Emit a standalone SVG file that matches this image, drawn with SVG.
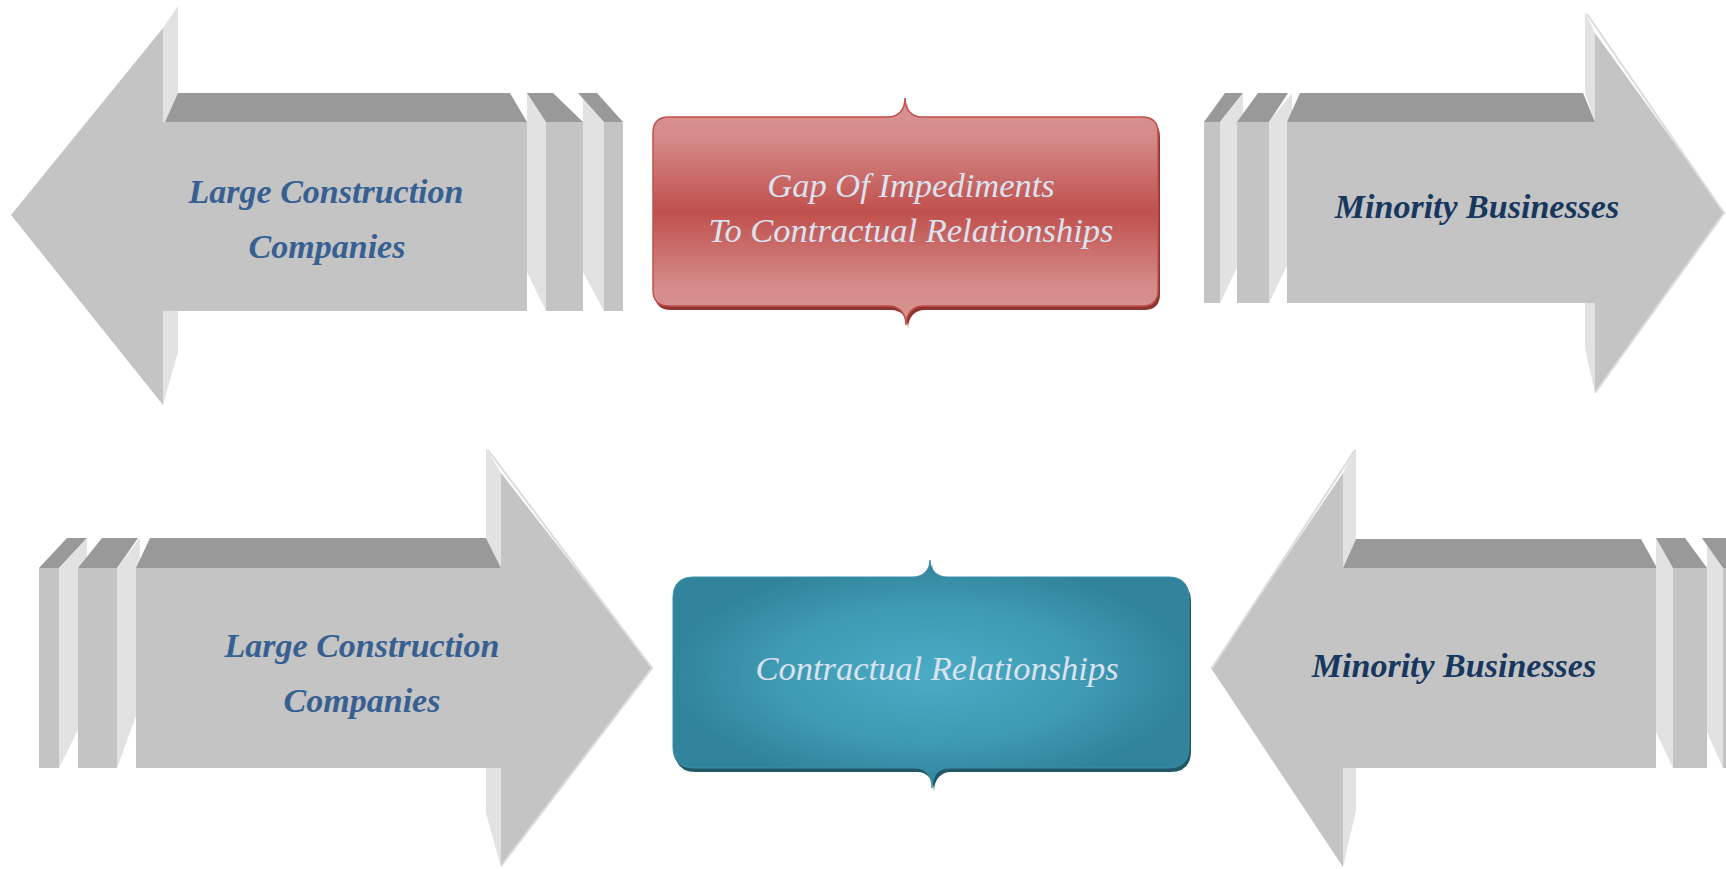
<svg xmlns="http://www.w3.org/2000/svg" width="1726" height="869" viewBox="0 0 1726 869">
<style>
.front{fill:#c4c4c4}
.top{fill:#999999}
.side{fill:#e2e2e2}
.edge{fill:none;stroke:#dcdcdc;stroke-width:2}
.gt{font-family:"Liberation Serif","Times New Roman",serif;font-style:italic;font-weight:bold;font-size:34px;text-anchor:middle}
.lc{fill:#376092}
.mb{fill:#17375e}
.bt{font-family:"Liberation Serif","Times New Roman",serif;font-style:italic;font-size:34.5px;text-anchor:middle;fill:#dbe3f0}
</style>
<defs>
<linearGradient id="redg" x1="0" y1="0" x2="0" y2="1">
<stop offset="0" stop-color="#d99694"/>
<stop offset="0.18" stop-color="#d48a88"/>
<stop offset="0.5" stop-color="#c0504d"/>
<stop offset="0.82" stop-color="#d48a88"/>
<stop offset="1" stop-color="#d99694"/>
</linearGradient>
<radialGradient id="tealg" cx="0.5" cy="0.5" r="0.5">
<stop offset="0" stop-color="#4babc5"/>
<stop offset="0.6" stop-color="#3f9ab3"/>
<stop offset="1" stop-color="#31849b"/>
</radialGradient>
<path id="redbox" d="M669,117 H888 C898,117 905,110 905,98 C905,110 912,117 922,117 H1142 Q1158,117 1158,133 V290 Q1158,306 1142,306 H923 C913,306 906,313 906,325 C906,313 899,306 889,306 H669 Q653,306 653,290 V133 Q653,117 669,117 Z"/>
<path id="tealbox" d="M694,577 H913 C923,577 930,570 930,560 C930,570 937,577 947,577 H1168 Q1189,577 1189,598 V747 Q1189,768 1168,768 H949 C939,768 932,775 932,788 C932,775 925,768 915,768 H694 Q673,768 673,747 V598 Q673,577 694,577 Z"/>
</defs>

<g id="large-top">
<polygon class="side" points="163,28 178,6 178,93 165,122 163,122"/>
<polygon class="side" points="163,311 178,311 178,352 163,405"/>
<polygon class="top" points="165,122 178,93 510,93 527,122"/>
<polygon class="front" points="11,215 163,28 163,122 527,122 527,311 163,311 163,405"/>
<polygon class="side" points="527,93 546,122 546,311 527,272"/>
<polygon class="top" points="527,93 553,93 583,122 546,122"/>
<rect class="front" x="546" y="122" width="37" height="189"/>
<polygon class="side" points="578,93 604,122 604,311 583,272 583,93"/>
<polygon class="top" points="578,93 597,93 623,122 604,122"/>
<rect class="front" x="604" y="122" width="19" height="189"/>
<text class="gt lc" x="326" y="203">Large Construction</text>
<text class="gt lc" x="327" y="258">Companies</text>
</g>

<g id="gap-box">
<use href="#redbox" transform="translate(2,4)" fill="#8e3431"/>
<use href="#redbox" fill="url(#redg)" stroke="#c0504d" stroke-width="1.5"/>
<text class="bt" x="911" y="197">Gap Of Impediments</text>
<text class="bt" x="911" y="242">To Contractual Relationships</text>
</g>

<g id="minority-top">
<rect class="front" x="1204" y="122" width="16" height="181"/>
<polygon class="top" points="1204,122 1225,93 1243,93 1220,122"/>
<polygon class="side" points="1220,122 1243,93 1243,255 1220,303"/>
<rect class="front" x="1237" y="122" width="32" height="181"/>
<polygon class="top" points="1237,122 1258,93 1288,93 1269,122"/>
<polygon class="side" points="1269,122 1292,93 1292,255 1269,303"/>
<polygon class="side" points="1585,12 1595,33 1595,122 1585,93"/>
<polygon class="side" points="1585,303 1595,303 1595,393 1585,348"/>
<polygon class="top" points="1287,122 1300,93 1583,93 1595,122"/>
<polygon class="front" points="1287,122 1595,122 1595,33 1725,213 1595,393 1595,303 1287,303"/>
<polyline class="edge" points="1587,14 1724,213 1595,393"/>
<text class="gt mb" x="1477" y="218">Minority Businesses</text>
</g>

<g id="large-bottom">
<rect class="front" x="39" y="568" width="20" height="200"/>
<polygon class="top" points="39,568 67,538 87,538 59,568"/>
<polygon class="side" points="59,568 87,538 87,712 59,768"/>
<rect class="front" x="78" y="568" width="39" height="200"/>
<polygon class="top" points="78,568 102,538 138,538 117,568"/>
<polygon class="side" points="117,568 140,538 140,705 117,768"/>
<polygon class="side" points="486,448 501,473 501,568 486,538"/>
<polygon class="side" points="486,768 501,768 501,867 486,813"/>
<polygon class="top" points="136,568 150,538 486,538 501,568"/>
<polygon class="front" points="136,568 501,568 501,473 653,668 501,867 501,768 136,768"/>
<polyline class="edge" points="488,450 652,668 501,866"/>
<text class="gt lc" x="362" y="657">Large Construction</text>
<text class="gt lc" x="362" y="712">Companies</text>
</g>

<g id="contractual-box">
<use href="#tealbox" transform="translate(2,4)" fill="#215868"/>
<use href="#tealbox" fill="url(#tealg)" stroke="#3b8ea5" stroke-width="1"/>
<text class="bt" x="937" y="680">Contractual Relationships</text>
</g>

<g id="minority-bottom">
<polygon class="side" points="1356,448 1343,473 1343,568 1356,539"/>
<polygon class="side" points="1343,768 1356,768 1356,810 1343,867"/>
<polygon class="top" points="1343,568 1356,539 1641,539 1657,568"/>
<polygon class="front" points="1211,668 1343,473 1343,568 1656,568 1656,768 1343,768 1343,867"/>
<polyline class="edge" points="1355,450 1212,668"/>
<polygon class="side" points="1656,538 1673,568 1673,768 1656,732"/>
<polygon class="top" points="1656,538 1685,538 1707,568 1673,568"/>
<rect class="front" x="1673" y="568" width="34" height="200"/>
<polygon class="side" points="1702,538 1723,568 1723,768 1707,732 1707,538"/>
<polygon class="top" points="1702,538 1726,538 1726,568 1723,568"/>
<rect class="front" x="1723" y="568" width="3" height="200"/>
<text class="gt mb" x="1454" y="677">Minority Businesses</text>
</g>

<g id="connectors"></g>
</svg>
